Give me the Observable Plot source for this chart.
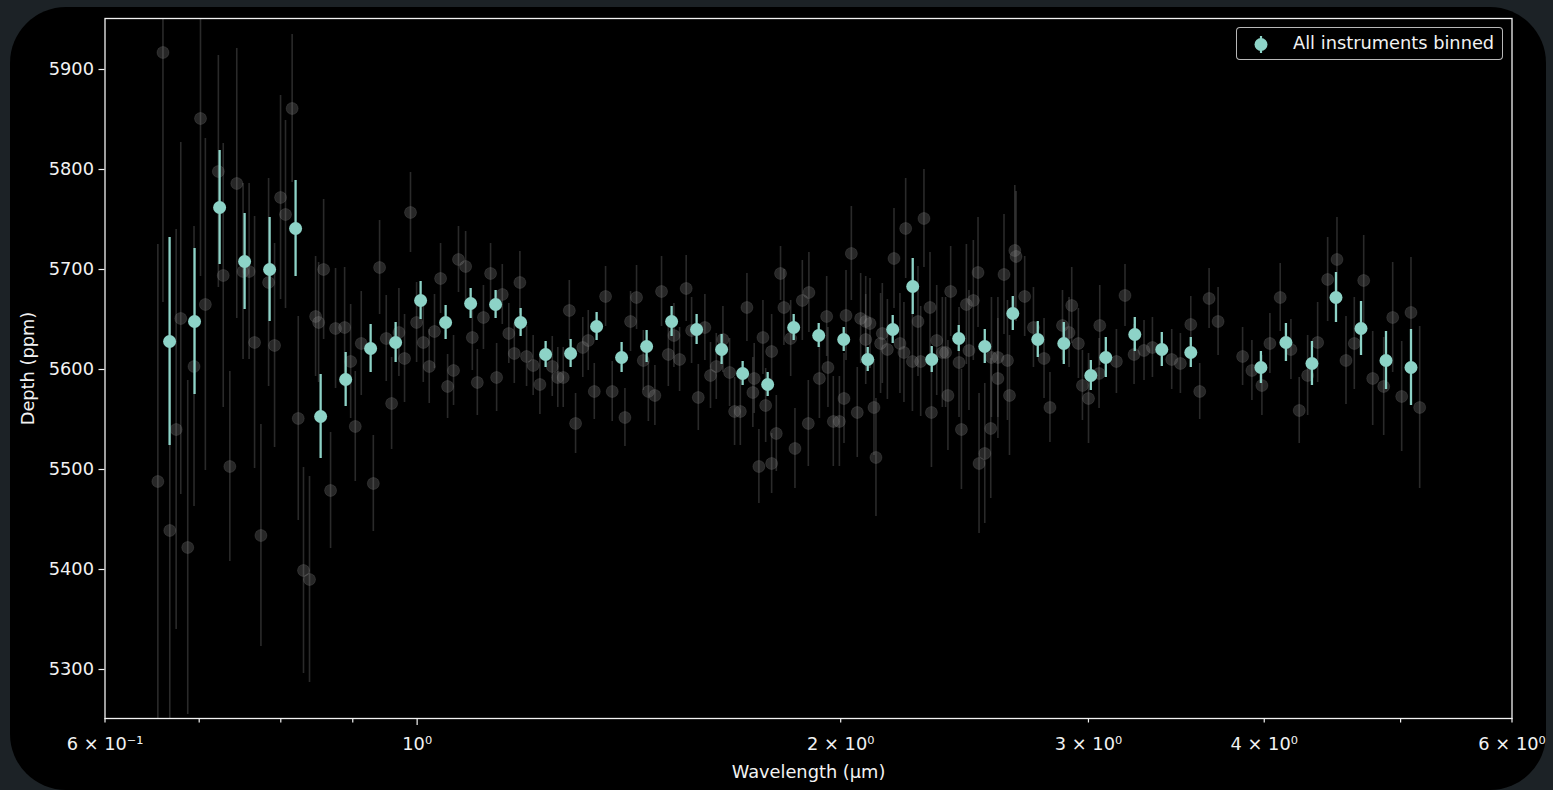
<!DOCTYPE html>
<html>
<head>
<meta charset="utf-8">
<script src="https://cdn.jsdelivr.net/npm/d3@7"></script>
<script src="https://cdn.jsdelivr.net/npm/@observablehq/plot@0.6"></script>
<style>
html, body { margin:0; padding:0; width:1553px; height:790px; overflow:hidden; background:#1c2226; font-family:"DejaVu Sans", sans-serif; }
#card { position:absolute; left:10px; top:7px; width:1536px; height:783px; background:#000; border-radius:56px; }
#chart { position:absolute; left:0; top:0; }
#legend { position:absolute; left:1236px; top:27px; width:265px; height:31px; border:1.3px solid rgba(215,215,215,0.85); border-radius:4px; background:#000; color:#f2f2f2; font-size:17.8px; }
#legend svg { position:absolute; left:14px; top:0px; }
#legend span { position:absolute; left:56px; top:4px; white-space:nowrap; }
</style>
</head>
<body>
<div id="card"></div>
<div id="chart"></div>
<div id="legend">
  <svg width="20" height="33"><line x1="10" x2="10" y1="8" y2="25" stroke="#8dd3c7" stroke-width="2.2"/><circle cx="10" cy="16.5" r="6.5" fill="#8dd3c7"/></svg>
  <span id="legendText"></span>
</div>
<script>
// ---- Binned spectrum (all instruments) ----
const binWave = [0.6669,0.6947,0.7238,0.7540,0.7855,0.8196,0.8539,0.8896,0.9267,0.9654,
  1.0057,1.0477,1.0915,1.1370,1.1845,1.2340,1.2855,1.3414,1.3974,1.4558,
  1.5166,1.5799,1.6459,1.7035,1.7747,1.8519,1.9293,2.0099,2.0904,2.1777,
  2.2502,2.3213,2.4262,2.5318,2.6506,2.7612,2.8813,3.0116,3.0864,3.2363,
  3.3826,3.5469,3.9782,4.1445,4.3248,4.4983,4.6863,4.8820,5.0858];
const binDepth = [5628,5648,5762,5708,5700,5741,5553,5590,5621,5627,
  5669,5647,5666,5665,5647,5615,5616,5643,5612,5623,
  5648,5640,5620,5596,5585,5642,5634,5630,5610,5640,
  5683,5610,5631,5623,5656,5630,5626,5594,5612,5635,
  5620,5617,5602,5627,5606,5672,5641,5609,5602];
const binErr = [104,73,57,48,52,48,42,27,24,20,
  19,17,15,14,14,13,14,14,15,16,
  15,15,15,12,12,13,12,12,12,14,
  28,13,13,17,17,18,21,15,20,17,
  17,15,16,19,22,25,27,29,38];

// ---- Individual instrument points ----
const allWave = [0.6597,0.6542,0.6671,0.6741,0.6792,0.6870,0.6941,0.7015,0.7071,0.7223,
  0.7281,0.7360,0.7444,0.7521,0.7596,0.7664,0.7744,0.7842,0.7919,0.7997,
  0.8062,0.8150,0.8232,0.8303,0.8385,0.8469,0.8511,0.8581,0.8679,0.8750,
  0.8881,0.8969,0.9037,0.9126,0.9308,0.9404,0.9507,0.9591,0.9706,0.9796,
  0.9892,0.9991,1.0101,1.0200,1.0288,1.0391,1.0511,1.0614,1.0700,1.0826,
  1.0945,1.1035,1.1146,1.1277,1.1389,1.1495,1.1618,1.1723,1.1831,1.1961,
  1.2091,1.2225,1.2475,1.2588,1.2701,1.2828,1.2960,1.3114,1.3232,1.3363,
  1.3612,1.3761,1.4050,1.4180,1.4320,1.4479,1.4599,1.4756,1.4918,1.5084,
  1.5223,1.5365,1.5532,1.5670,1.5843,1.6014,1.6162,1.6316,1.6494,1.6675,
  1.6812,1.6971,1.7155,1.7322,1.7361,1.7494,1.7610,1.7689,1.7863,1.7863,
  1.8000,1.8125,1.8225,1.8428,1.8558,1.8783,1.8986,1.8968,1.9315,1.9546,
  1.9587,1.9760,1.9957,2.0109,2.0175,2.0352,2.0550,2.0664,2.0836,2.0983,
  2.0836,2.1120,2.1188,2.1349,2.1410,2.1588,2.1823,2.2037,2.2181,2.2244,
  2.2491,2.2697,2.2797,2.2920,2.3148,2.3202,2.3403,2.3620,2.3746,2.3837,
  2.3944,2.4274,2.4369,2.4568,2.4671,2.4849,2.5040,2.5082,2.5318,2.5567,
  2.5596,2.5868,2.5868,2.6128,2.6276,2.6363,2.6593,2.6649,2.7027,2.7418,
  2.7897,2.8168,2.8752,2.9063,2.9190,2.9509,2.9706,3.0003,3.0560,3.0526,
  3.1405,3.1849,3.2326,3.2856,3.3311,3.4380,3.4871,3.5469,3.5992,3.6548,
  3.7090,3.8608,3.9200,3.9847,4.0372,4.1060,4.1786,4.2357,4.2944,4.3653,
  4.4374,4.5057,4.5726,4.6352,4.7070,4.7769,4.8636,4.9358,5.0090,5.0858,
  5.1587];
const allDepth = [5917,5488,5439,5540,5651,5422,5603,5851,5665,5798,
  5694,5503,5786,5698,5698,5627,5434,5687,5624,5772,
  5755,5861,5551,5399,5390,5653,5647,5700,5479,5641,
  5642,5608,5543,5626,5486,5702,5631,5566,5637,5611,
  5757,5647,5627,5603,5638,5691,5583,5599,5710,5703,
  5632,5587,5652,5696,5592,5675,5636,5616,5687,5613,
  5604,5585,5603,5592,5592,5659,5546,5622,5629,5578,
  5673,5578,5552,5648,5672,5609,5578,5574,5678,5615,
  5634,5610,5681,5639,5572,5642,5594,5603,5630,5597,
  5558,5558,5662,5577,5591,5503,5632,5564,5618,5506,
  5536,5696,5662,5631,5521,5669,5677,5546,5591,5653,
  5602,5548,5548,5571,5654,5716,5557,5651,5648,5646,
  5630,5562,5512,5626,5636,5620,5711,5626,5617,5741,
  5608,5648,5608,5751,5662,5557,5629,5617,5617,5574,
  5678,5607,5540,5665,5619,5669,5697,5506,5516,5541,
  5612,5591,5612,5695,5609,5574,5719,5713,5673,5642,
  5611,5562,5644,5637,5664,5626,5584,5571,5644,5596,
  5608,5674,5615,5619,5622,5610,5606,5645,5578,5671,
  5648,5613,5599,5584,5626,5672,5620,5559,5594,5627,
  5690,5710,5609,5626,5689,5591,5583,5652,5573,5657,
  5562];
const allErr = [250,237,230,200,176,167,140,158,166,116,
  132,95,135,88,88,126,111,104,102,102,
  94,74,102,103,103,60,60,70,58,60,
  60,57,55,52,48,47,43,46,44,44,
  40,40,40,37,37,35,32,35,33,35,
  33,33,32,30,34,30,30,30,31,30,
  30,30,30,30,30,30,30,30,30,28,
  30,30,29,30,32,30,30,30,35,32,
  32,32,33,33,33,33,33,33,33,34,
  34,34,34,35,35,37,37,37,37,30,
  38,27,38,38,40,40,40,43,40,40,
  40,45,45,45,45,47,45,45,45,45,
  45,48,59,50,50,50,50,50,50,50,
  50,55,55,49,55,55,55,55,55,55,
  45,55,60,60,60,60,55,70,70,70,
  60,60,60,60,60,60,65,65,40,40,
  40,35,35,35,38,35,35,45,40,35,
  32,31,30,30,30,30,30,28,28,30,
  34,29,30,30,30,34,30,33,40,40,
  42,42,44,46,45,47,49,55,55,55,
  81];

// ---- Axes / text ----
const yTicks = [5300,5400,5500,5600,5700,5800,5900];
const xMinorTicks = [0.6,0.7,0.8,0.9,2,3,4,5,6];
const xMajorTicks = [1];
const xLabelTicks = [0.6,1,2,3,4,6];
const xLabelText = ["6 × 10⁻¹","10⁰","2 × 10⁰","3 × 10⁰","4 × 10⁰","6 × 10⁰"];
const xTitle = "Wavelength (μm)";
const yTitle = "Depth (ppm)";
const legendLabel = "All instruments binned";

const bin = binWave.map((w, i) => ({w, d: binDepth[i], e: binErr[i]}));
const all = allWave.map((w, i) => ({w, d: allDepth[i], e: allErr[i]}));
const teal = "#8dd3c7";
const gray = "#8c8c8c";

const plot = Plot.plot({
  width: 1553,
  height: 790,
  marginLeft: 104.5,
  marginRight: 41.5,
  marginTop: 18,
  marginBottom: 72,
  style: {background: "transparent", color: "#f2f2f2", fontFamily: "DejaVu Sans, sans-serif", fontSize: "17.8px", overflow: "visible"},
  x: {type: "log", domain: [0.6, 6]},
  y: {domain: [5251, 5951]},
  marks: [
    Plot.ruleX(all, {x: "w", y1: d => d.d - d.e, y2: d => d.d + d.e, stroke: gray, strokeOpacity: 0.3, strokeWidth: 1.6, clip: true}),
    Plot.dot(all, {x: "w", y: "d", r: 6, fill: gray, fillOpacity: 0.28, stroke: "#b0b0b0", strokeOpacity: 0.14, strokeWidth: 1, clip: true}),
    Plot.ruleX(bin, {x: "w", y1: d => d.d - d.e, y2: d => d.d + d.e, stroke: teal, strokeWidth: 2.3, clip: true}),
    Plot.dot(bin, {x: "w", y: "d", r: 6.5, fill: teal, stroke: "none", clip: true}),
    Plot.frame({stroke: "#f2f2f2", strokeWidth: 1.3}),
    Plot.axisY(yTicks, {tickSize: 6, tickPadding: 5, strokeWidth: 1.2, tickFormat: d => String(d), label: yTitle, labelAnchor: "center", labelArrow: "none", labelOffset: 84}),
    Plot.axisX(xMinorTicks, {tickSize: 4.5, strokeWidth: 1.2, text: null, label: null}),
    Plot.axisX(xMajorTicks, {tickSize: 7, strokeWidth: 1.2, text: null, label: null}),
    Plot.axisX(xLabelTicks, {tickSize: 0, tickPadding: 19, tickFormat: d => xLabelText[xLabelTicks.indexOf(d)], label: xTitle, labelAnchor: "center", labelArrow: "none", labelOffset: 59})
  ]
});
document.getElementById("chart").appendChild(plot);
document.getElementById("legendText").textContent = legendLabel;
</script>
</body>
</html>
